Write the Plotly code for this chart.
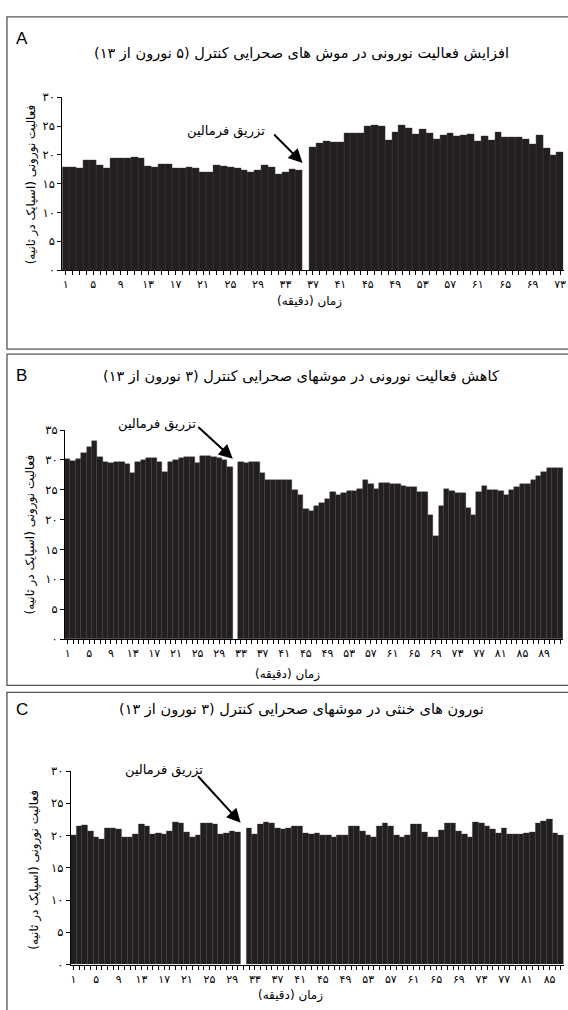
import plotly.graph_objects as go

# ---------------- data ----------------
# Mean firing rate (spikes/s) per minute; None = minute of formalin injection
a_rate = [17.9, 17.8, 17.7, 19.0, 19.0, 18.2, 17.7, 19.4, 19.4, 19.5,
          19.6, 19.5, 18.1, 17.9, 18.4, 18.4, 17.7, 17.7, 17.8, 17.7,
          17.0, 17.0, 18.3, 18.0, 17.9, 17.7, 17.4, 17.0, 17.4, 18.3,
          17.9, 16.6, 17.0, 17.6, 17.4, None, 21.3, 22.1, 22.4, 22.2,
          22.2, 23.7, 23.7, 23.7, 25.0, 25.1, 25.0, 22.6, 24.0, 25.1,
          24.6, 23.6, 24.4, 23.8, 22.7, 23.4, 23.7, 23.2, 23.4, 23.6,
          22.3, 23.3, 22.6, 23.9, 23.1, 23.1, 23.1, 22.8, 21.9, 23.4,
          21.1, 20.0, 20.4]
a_minutes = list(range(1, len(a_rate) + 1))

b_rate = [30.1, 29.8, 30.1, 31.1, 32.1, 33.2, 30.5, 29.6, 29.5, 29.6,
          29.7, 29.3, 27.8, 29.6, 29.9, 30.3, 30.3, 29.6, 27.9, 29.6,
          30.0, 30.3, 30.4, 30.4, 29.5, 30.7, 30.6, 30.4, 30.3, 29.9,
          28.8, None, 29.7, 29.5, 29.6, 29.7, 27.8, 26.6, 26.7, 26.7,
          26.7, 26.7, 24.9, 24.1, 21.8, 21.5, 22.3, 22.8, 23.5, 24.6,
          24.1, 24.4, 24.8, 24.8, 25.2, 26.6, 25.9, 25.2, 26.2, 26.1,
          25.9, 25.9, 25.6, 25.5, 25.5, 24.6, 24.6, 20.8, 17.3, 22.2,
          25.2, 24.8, 24.5, 24.5, 21.9, 20.8, 24.6, 25.7, 25.0, 25.0,
          24.8, 24.1, 24.9, 25.5, 25.9, 26.0, 26.6, 27.3, 28.0, 28.7,
          28.7, 28.7]
b_minutes = list(range(1, len(b_rate) + 1))

c_rate = [20.0, 21.4, 21.6, 20.7, 19.7, 19.4, 21.2, 21.1, 21.0, 19.7,
          19.8, 20.2, 21.7, 21.4, 20.2, 20.3, 20.2, 20.7, 22.1, 22.0,
          20.5, 19.7, 20.1, 21.9, 21.9, 21.7, 20.2, 20.3, 20.7, 20.6,
          None, 21.1, 20.2, 21.7, 22.1, 22.0, 21.2, 21.0, 21.2, 21.5,
          21.5, 20.4, 20.2, 20.4, 20.1, 20.1, 19.8, 20.0, 20.0, 21.4,
          21.4, 20.7, 20.1, 19.8, 21.4, 21.9, 21.4, 20.1, 19.7, 20.1,
          21.7, 21.7, 20.6, 19.8, 19.8, 20.9, 21.9, 21.9, 20.7, 20.2,
          19.8, 22.1, 21.9, 21.4, 21.0, 20.4, 21.2, 20.2, 20.2, 20.2,
          20.4, 20.5, 21.9, 22.3, 22.5, 20.4, 20.0]
c_minutes = list(range(1, len(c_rate) + 1))

# injection minute (arrow target) for each panel
a_inject, b_inject, c_inject = 36, 32, 31

a_title = "افزایش فعالیت نورونی در موش های صحرایی کنترل (۵ نورون از ۱۳)"
b_title = "کاهش فعالیت نورونی در موشهای صحرایی کنترل (۳ نورون از ۱۳)"
c_title = "نورون های خنثی در موشهای صحرایی کنترل (۳ نورون از ۱۳)"
y_label = "فعالیت نورونی (اسپایک در ثانیه)"
x_label = "زمان (دقیقه)"
arrow_label = "تزریق فرمالین"

# ---------------- helpers ----------------
W, H = 568, 1010
FA_DIGITS = str.maketrans("0123456789", "۰۱۲۳۴۵۶۷۸۹")


def fa(n):
    return str(n).translate(FA_DIGITS)


def fx(px):
    return px / W


def fy(py):
    return 1 - py / H


FA_FONT = "DejaVu Sans"
BAR_COLOR = "#231f20"

fig = go.Figure()

panels = [
    dict(key="", letter="A", title=a_title, minutes=a_minutes, rate=a_rate,
         ymax=30, x0=62.6, x1=566.5, ybot=267, ytop=91.5,
         box=(7, 10, 347), letter_y=32, title_y=47, ylab=(32, 180),
         xlab=(311, 299), inject=a_inject, head_y=18.6,
         arrow=(-30, -30), text_xy=(268, 126)),
    dict(key="2", letter="B", title=b_title, minutes=b_minutes, rate=b_rate,
         ymax=35, x0=65.3, x1=566, ybot=641, ytop=429,
         box=(7, 352, 688), letter_y=374, title_y=375, ylab=(31, 535),
         xlab=(289, 677), inject=b_inject, head_y=30.2,
         arrow=(-36, -33), text_xy=(199, 423)),
    dict(key="3", letter="C", title=c_title, minutes=c_minutes, rate=c_rate,
         ymax=30, x0=71, x1=566.7, ybot=971, ytop=775,
         box=(7, 695, 1030), letter_y=712, title_y=712, ylab=(35, 875),
         xlab=(292, 1002), inject=c_inject, head_y=22.0,
         arrow=(-44, -48), text_xy=(206, 774)),
]

shapes = []
annotations = []


def note(x, y, text, size, family=FA_FONT, **kw):
    d = dict(xref="paper", yref="paper", x=fx(x), y=fy(y), text=text,
             showarrow=False, xanchor="center", yanchor="middle",
             font=dict(family=family, size=size, color="black"))
    d.update(kw)
    annotations.append(d)


for p in panels:
    k = p["key"]
    n = len(p["minutes"])
    fig.add_trace(go.Bar(
        x=p["minutes"], y=p["rate"],
        xaxis="x" + k, yaxis="y" + k,
        width=1.0,
        marker=dict(color=BAR_COLOR, line=dict(color="#3a3839", width=0.4)),
        showlegend=False, hoverinfo="x+y",
    ))

    label_minutes = list(range(1, n + 1, 4))
    fig.update_layout(**{
        "xaxis" + k: dict(
            domain=[fx(p["x0"]), fx(p["x1"])], anchor="y" + k,
            range=[0.5, n + 0.5],
            tickmode="array", tickvals=label_minutes,
            ticktext=[fa(m) for m in label_minutes],
            ticks="outside", ticklen=4, tickwidth=1, tickcolor="black",
            minor=dict(tickmode="linear", tick0=1, dtick=1, ticks="outside",
                       ticklen=4, tickwidth=1, tickcolor="black"),
            showline=True, linecolor="black", linewidth=1,
            showgrid=False, zeroline=False, fixedrange=True,
            ticklabeloverflow="allow",
            tickfont=dict(family=FA_FONT, size=11, color="black"),
        ),
        "yaxis" + k: dict(
            domain=[fy(p["ybot"]), fy(p["ytop"])], anchor="x" + k,
            range=[0, p["ymax"]],
            tickmode="array", tickvals=list(range(0, p["ymax"] + 1, 5)),
            ticktext=[fa(v) for v in range(0, p["ymax"] + 1, 5)],
            ticks="outside", ticklen=4, tickwidth=1, tickcolor="black",
            showline=True, linecolor="black", linewidth=1,
            showgrid=False, zeroline=False, fixedrange=True,
            ticklabeloverflow="allow",
            tickfont=dict(family=FA_FONT, size=11.5, color="black"),
        ),
    })

    bx0, by0, by1 = p["box"]
    shapes.append(dict(type="rect", xref="paper", yref="paper",
                       x0=fx(bx0), x1=fx(W + 20), y0=fy(by1), y1=fy(by0),
                       line=dict(color="#555555", width=1.3)))

    note(22, p["letter_y"], p["letter"], 17, family="Liberation Sans")
    note(303, p["title_y"], p["title"], 14.5)
    note(p["ylab"][0], p["ylab"][1], y_label, 12, textangle=-90)
    note(p["xlab"][0], p["xlab"][1], x_label, 12)
    note(p["text_xy"][0], p["text_xy"][1], arrow_label, 13, xanchor="right")

    # injection arrow
    ax, ay = p["arrow"]
    annotations.append(dict(xref="x" + k, yref="y" + k, x=p["inject"] - 0.5, y=p["head_y"],
                            text="", showarrow=True, ax=ax, ay=ay,
                            arrowhead=2, arrowsize=1.4, arrowwidth=2.0, arrowcolor="black"))

fig.update_layout(
    width=W, height=H,
    margin=dict(l=0, r=0, t=0, b=0),
    paper_bgcolor="white", plot_bgcolor="white",
    bargap=0, shapes=shapes, annotations=annotations,
)

fig.write_html("out.html")
